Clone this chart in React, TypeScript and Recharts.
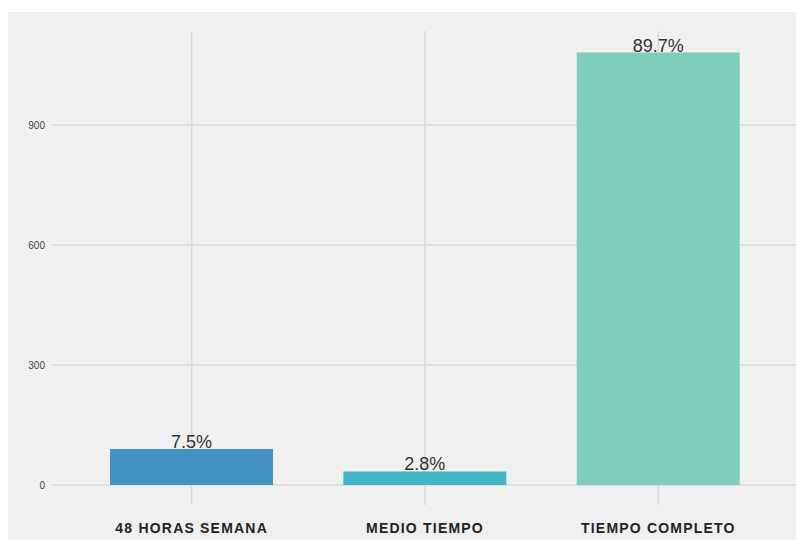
import React from "react";
import { BarChart, Bar, XAxis, YAxis, CartesianGrid, Cell, LabelList } from "recharts";

const categories = ["48 HORAS SEMANA", "MEDIO TIEMPO", "TIEMPO COMPLETO"];
const counts = [90, 34, 1081];
const percentLabels = ["7.5%", "2.8%", "89.7%"];
const barColors = ["#4292c6", "#41b6c4", "#7fcdbb"];
const yTicks = [0, 300, 600, 900];

const data = categories.map((c, i) => ({ name: c, value: counts[i], pct: percentLabels[i] }));

const XTick = (props: any) => {
  const { x, y, payload } = props;
  return (
    <text
      x={x}
      y={y + 15}
      textAnchor="middle"
      dominantBaseline="central"
      fontFamily="'Liberation Sans', Arial, sans-serif"
      fontWeight="bold"
      fontSize={14}
      letterSpacing={1.2}
      fill="#222"
    >
      {payload.value}
    </text>
  );
};

const YTick = (props: any) => {
  const { y, payload } = props;
  return (
    <text
      x={37}
      y={y}
      textAnchor="end"
      dominantBaseline="central"
      fontFamily="'Liberation Sans', Arial, sans-serif"
      fontSize={10}
      fill="#444"
    >
      {payload.value}
    </text>
  );
};

const PctLabel = (props: any) => {
  const { x, y, width, index } = props;
  return (
    <text
      x={x + width / 2}
      y={y - 1}
      textAnchor="middle"
      fontFamily="'Liberation Sans', Arial, sans-serif"
      fontSize={18}
      fill="#333"
    >
      {percentLabels[index]}
    </text>
  );
};

export default function App() {
  return (
    <div style={{ marginTop: 4, width: 796, height: 528, background: "#f0f0f0" }}>
      <BarChart
        width={796}
        height={528}
        data={data}
        margin={{ top: 19, right: 6, left: 0, bottom: 0 }}
        barCategoryGap="15%"
      >
        <CartesianGrid stroke="#d9d9d9" strokeWidth={1.5} syncWithTicks />
        <XAxis
          dataKey="name"
          height={35}
          padding={{ left: 23, right: 23 }}
          axisLine={false}
          tickLine={false}
          tick={<XTick />}
          interval={0}
        />
        <YAxis
          width={44}
          domain={[-50, 1135]}
          ticks={yTicks}
          allowDataOverflow
          axisLine={false}
          tickLine={false}
          tick={<YTick />}
        />
        <Bar dataKey="value" isAnimationActive={false}>
          {data.map((d, i) => (
            <Cell key={d.name} fill={barColors[i]} />
          ))}
          <LabelList dataKey="pct" content={<PctLabel />} />
        </Bar>
      </BarChart>
    </div>
  );
}
